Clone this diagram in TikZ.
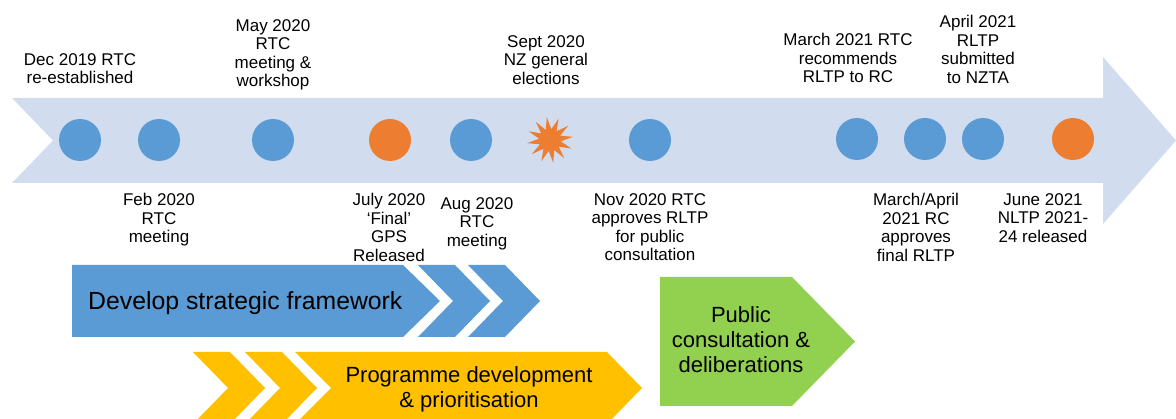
\documentclass[tikz,border=0pt]{standalone}
\usepackage{fontspec}
\setmainfont{Liberation Sans}
\usetikzlibrary{shapes.geometric}
\definecolor{band}{RGB}{209,220,238}
\definecolor{evblue}{RGB}{91,155,213}
\definecolor{evorange}{RGB}{237,125,49}
\definecolor{phyellow}{RGB}{255,192,0}
\definecolor{phgreen}{RGB}{146,208,80}
\tikzset{
  evt/.style={circle,fill=evblue,minimum size=42pt,inner sep=0pt},
  evtor/.style={evt,fill=evorange},
  lbl/.style={anchor=north,align=center,inner sep=0pt,font=\fontsize{17}{18.6}\selectfont},
  phase/.style={inner sep=0pt},
}
\begin{document}
\begin{tikzpicture}[x=1pt,y=-1pt]
\useasboundingbox (0,0) rectangle (1176,419);
% main timeline arrow
\fill[band] (12,98) -- (1103,98) -- (1103,57) -- (1176,140.5) -- (1103,224) -- (1103,183) -- (12,183) -- (53,140.5) -- cycle;
% events
\node[evt] (e1) at (80,140) {};
\node[evt] (e2) at (159,140) {};
\node[evt] (e3) at (273,140) {};
\node[evtor] (e4) at (390,140) {};
\node[evt] (e5) at (471,140) {};
\node[star,star points=12,star point ratio=2.1,fill=evorange,minimum size=46pt,inner sep=0pt,rotate=8] (e6) at (550,140) {};
\node[evt] (e7) at (650,140) {};
\node[evt] (e8) at (857,139) {};
\node[evt] (e9) at (925,139) {};
\node[evt] (e10) at (983,139) {};
\node[evtor] (e11) at (1073,139) {};
% labels above
\node[lbl] (t1) at (80,53) {Dec 2019 RTC\\re-established};
\node[lbl] (t3) at (273,19) {May 2020\\RTC\\meeting \&\\workshop};
\node[lbl] (t6) at (546,35) {Sept 2020\\NZ general\\elections};
\node[lbl] (t8) at (848,33) {March 2021 RTC\\recommends\\RLTP to RC};
\node[lbl] (t10) at (978,15) {April 2021\\RLTP\\submitted\\to NZTA};
% labels below
\node[lbl] (t2) at (159,193) {Feb 2020\\RTC\\meeting};
\node[lbl] (t4) at (389,193) {July 2020\\‘Final’\\GPS\\Released};
\node[lbl] (t5) at (477,197) {Aug 2020\\RTC\\meeting};
\node[lbl] (t7) at (650,193) {Nov 2020 RTC\\approves RLTP\\for public\\consultation};
\node[lbl] (t9) at (916,193) {March/April\\2021 RC\\approves\\final RLTP};
\node[lbl] (t11) at (1043,193) {June 2021\\NLTP 2021-\\24 released};
% blue phase
\fill[evblue] (72,265) -- (403,265) -- (440,301) -- (403,337) -- (72,337) -- cycle;
\fill[evblue] (418,265) -- (455,265) -- (490,301) -- (455,337) -- (418,337) -- (453,301) -- cycle;
\fill[evblue] (468,265) -- (505,265) -- (540,301) -- (505,337) -- (468,337) -- (503,301) -- cycle;
\node[phase,anchor=base west,font=\fontsize{24.8}{28}\selectfont] (p1) at (88,310) {Develop strategic framework};
% yellow phase
\fill[phyellow] (193,352) -- (230,352) -- (265,388) -- (230,424) -- (193,424) -- (228,388) -- cycle;
\fill[phyellow] (245,352) -- (282,352) -- (317,388) -- (282,424) -- (245,424) -- (280,388) -- cycle;
\fill[phyellow] (295,352) -- (607,352) -- (642,388) -- (607,424) -- (295,424) -- (331,388) -- cycle;
\node[phase,anchor=north,align=center,font=\fontsize{22}{25}\selectfont] (p2) at (469,366) {Programme development\\\& prioritisation};
% green phase
\fill[phgreen] (660,277) -- (792,277) -- (855,341.5) -- (792,406) -- (660,406) -- cycle;
\node[phase,anchor=north,align=center,font=\fontsize{22}{25}\selectfont] (p3) at (741,306) {Public\\consultation \&\\deliberations};
\end{tikzpicture}
\end{document}
